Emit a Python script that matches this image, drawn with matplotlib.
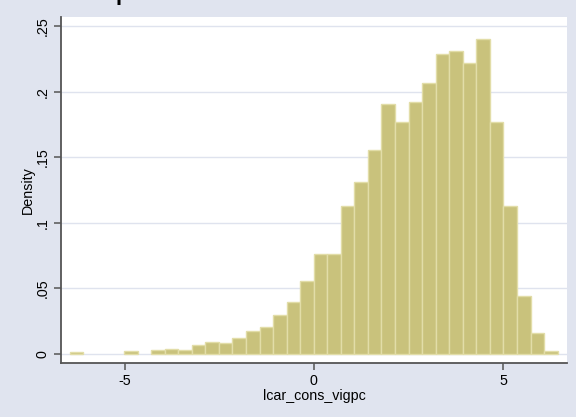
import matplotlib
matplotlib.use("Agg")
import matplotlib.pyplot as plt
import numpy as np

# Histogram data (Stata-style density histogram)
bin_start = -6.455
bin_width = 0.3584
densities = [0.0013, 0.0, 0.0, 0.0, 0.0020, 0.0, 0.0028, 0.0036, 0.0028,
             0.0066, 0.0089, 0.0082, 0.0120, 0.0174, 0.0204, 0.0293, 0.0393,
             0.0556, 0.0760, 0.0760, 0.1124, 0.1307, 0.1555, 0.1907, 0.1771,
             0.1924, 0.2064, 0.2286, 0.2309, 0.2217, 0.2404, 0.1769, 0.1124,
             0.0441, 0.0158, 0.0020]
xticks = [-5, 0, 5]
xtick_labels = ["-5", "0", "5"]
yticks = [0, 0.05, 0.10, 0.15, 0.20, 0.25]
ytick_labels = ["0", ".05", ".1", ".15", ".2", ".25"]
xlabel = "lcar_cons_vigpc"
ylabel = "Density"

plt.rcParams['font.family'] = ['Liberation Sans', 'DejaVu Sans']

bg = "#e0e4ef"
fig = plt.figure(figsize=(5.76, 4.17), dpi=100, facecolor=bg)
ax = fig.add_axes([0.1059, 0.1302, 0.984 - 0.1059, 0.9592 - 0.1302])
ax.set_facecolor("white")

lefts = bin_start + bin_width * np.arange(len(densities))
heights = np.array(densities)
mask = heights > 0
ax.bar(lefts[mask], heights[mask], width=bin_width, align='edge',
       color="#c9c27c", edgecolor="#e2dda8", linewidth=1.0, zorder=3)

ax.set_xlim(-6.69, 6.69)
ax.set_ylim(-0.0069, 0.2569)

ax.set_yticks(yticks)
ax.set_yticklabels(ytick_labels, rotation=90, va='center', fontsize=10.3)
ax.set_xticks(xticks)
ax.set_xticklabels(xtick_labels, fontsize=10.3)
ax.grid(axis='y', color="#dfe3ee", linewidth=1.0, zorder=1)
ax.grid(axis='x', visible=False)

for s in ['top', 'right']:
    ax.spines[s].set_visible(False)
for s in ['left', 'bottom']:
    ax.spines[s].set_color("#555555")
    ax.spines[s].set_linewidth(1.3)
ax.tick_params(axis='both', direction='out', length=5, width=1.1,
               color="#555555", labelcolor="black", pad=3)

ax.set_xlabel(xlabel, fontsize=10.3, labelpad=1)
ax.set_ylabel(ylabel, fontsize=10.3, labelpad=1)

# clipped title fragment at the top (only its lowest part is visible)
fig.text(0.213, 1.012, "p", fontsize=16, fontweight='bold', ha='center',
         va='center', color='black')

fig.savefig("out.png", dpi=100, facecolor=bg)
